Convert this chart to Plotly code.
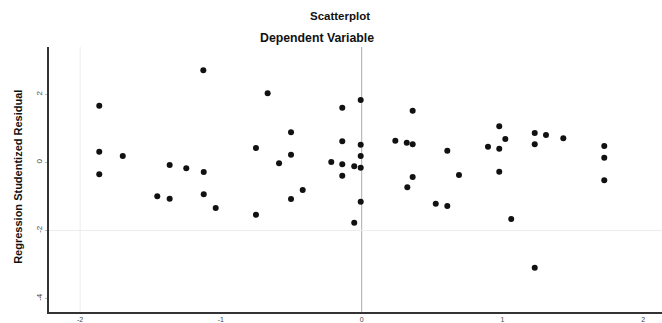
import plotly.graph_objects as go

# Regression standardized predicted value (x) and studentized residual (y)
pred = [-1.864, -1.864, -1.864, -1.697, -1.125, -0.668, -0.138, -0.502, -0.751, -0.502,
        -0.138, -1.364, -1.246, -1.122, -0.587, -0.216, -0.138, -0.053, -0.138, -1.452,
        -1.364, -1.122, -1.037, -0.751, -0.502, -0.419, -0.053, -0.007, 0.362, -0.007,
        -0.007, -0.007, -0.007, 0.239, 0.320, 0.362, 0.608, 0.324, 0.362, 0.691,
        0.526, 0.608, 0.897, 0.977, 1.020, 0.977, 0.977, 1.062, 1.229, 1.309,
        1.229, 1.432, 1.723, 1.723, 1.723, 1.229]
resid = [1.671, 0.318, -0.347, 0.191, 2.712, 2.035, 1.612, 0.888, 0.426, 0.229,
         0.624, -0.074, -0.171, -0.279, -0.024, 0.015, -0.053, -0.112, -0.388, -0.994,
         -1.065, -0.935, -1.338, -1.535, -1.074, -0.809, -1.771, 1.838, 1.524, 0.524,
         0.191, -0.153, -1.153, 0.641, 0.582, 0.535, 0.347, -0.729, -0.426, -0.368,
         -1.212, -1.279, 0.465, 1.065, 0.691, 0.406, -0.271, -1.662, 0.868, 0.809,
         0.535, 0.712, 0.485, 0.141, -0.524, -3.094]

x_ticks = [-2, -1, 0, 1, 2]
y_ticks = [2, 0, -2, -4]

fig = go.Figure()
fig.add_trace(go.Scatter(
    x=pred, y=resid, mode="markers",
    marker=dict(size=6, color="#111111"),
    showlegend=False, hoverinfo="skip"))

# reference lines
fig.add_vline(x=0, line=dict(color="#aaaaaa", width=1), layer="below")
fig.add_vline(x=-2, line=dict(color="#ececec", width=1), layer="below")
fig.add_hline(y=-2, line=dict(color="#ececec", width=1), layer="below")

fig.update_layout(
    width=662, height=323,
    margin=dict(l=49, r=0, t=47, b=11),
    paper_bgcolor="white", plot_bgcolor="white",
    font=dict(family="Liberation Sans, Arial, sans-serif", color="#111"),
    annotations=[
        dict(text="<b>Scatterplot</b>", xref="paper", yref="paper",
             x=0.475, y=1.0, yshift=31, yanchor="middle", showarrow=False,
             font=dict(size=11.5, color="#111")),
        dict(text="<b>Dependent Variable</b>", xref="paper", yref="paper",
             x=0.438, y=1.0, yshift=9, yanchor="middle", showarrow=False,
             font=dict(size=12.3, color="#111")),
        dict(text="<b>Regression Studentized Residual</b>", xref="paper", yref="paper",
             x=-0.0506, y=0.51, xanchor="center", yanchor="middle", textangle=-90,
             showarrow=False, font=dict(size=11, color="#111")),
    ],
)
fig.update_xaxes(
    range=[-2.221, 2.133], tickvals=x_ticks, ticktext=[str(v) for v in x_ticks],
    tickangle=0, tickfont=dict(size=7, color="#444"),
    showgrid=False, zeroline=False, automargin=False,
    showline=True, linecolor="#333", linewidth=1.5,
    ticks="", ticklabelstandoff=0)
fig.update_yaxes(
    range=[-4.397, 3.397], tickvals=y_ticks, ticktext=[str(v) for v in y_ticks],
    tickangle=-90, tickfont=dict(size=8, color="#444"),
    showgrid=False, zeroline=False, automargin=False,
    showline=True, linecolor="#333", linewidth=1.5,
    ticks="outside", ticklen=2, tickcolor="#bbb")

# remove the browser's default body margin so the figure sits at the page corner
fig.write_html("out.html", config={"displayModeBar": False},
               post_script="document.body.style.margin='0';document.body.style.overflow='hidden';")
